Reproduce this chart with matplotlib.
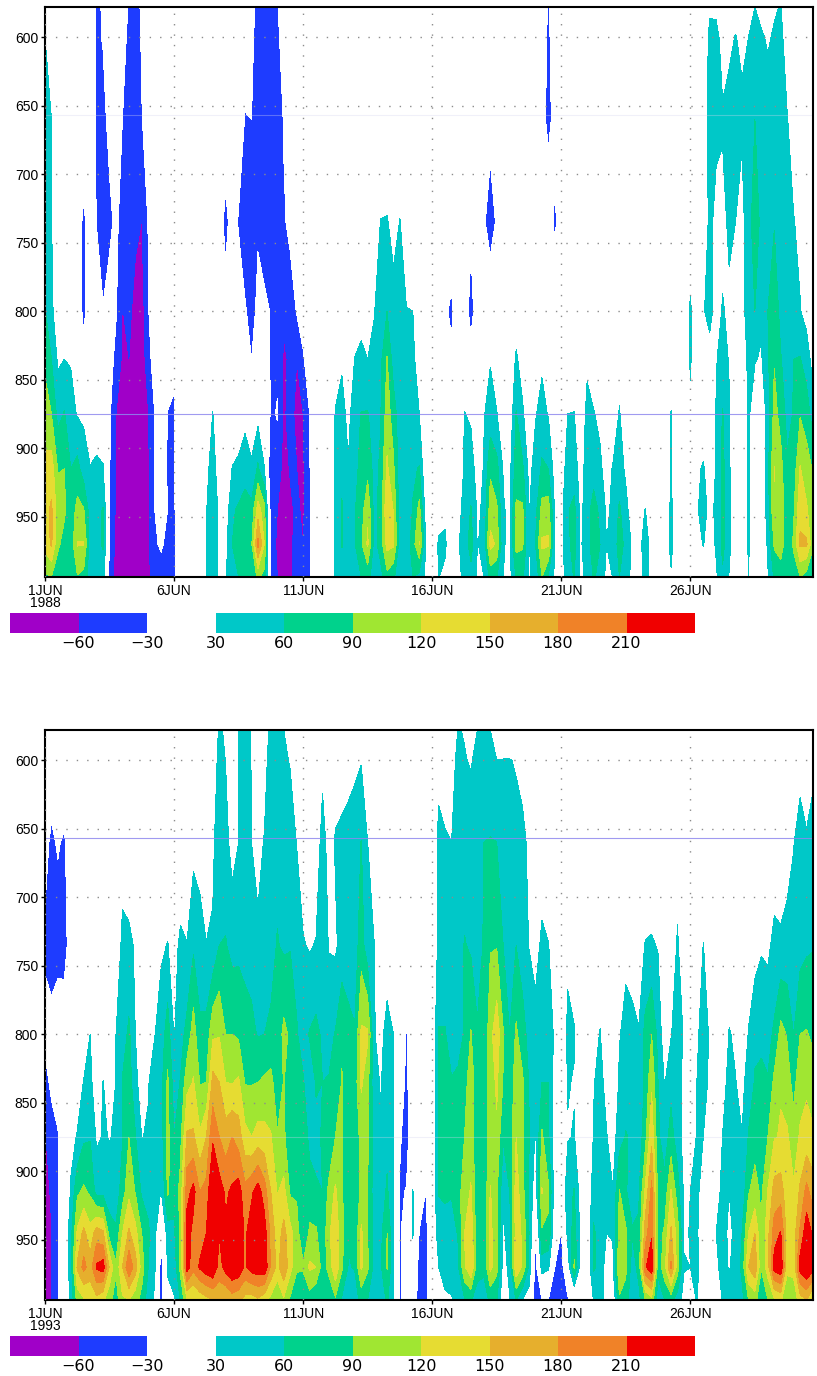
import numpy as np
import matplotlib
matplotlib.use('Agg')
import matplotlib.pyplot as plt

W, H = 817, 1376

levels_p = [994, 970, 945, 915, 875, 835, 800, 735, 660, 600, 578]
contour_levels = [-1000, -60, -30, 30, 60, 90, 120, 150, 180, 210, 1000]
colors = ['#A000C8', '#1E3CFF', '#FFFFFF', '#00C8C8', '#00D28C', '#A0E632',
          '#E6DC32', '#E6AF2D', '#F08228', '#F00000']
cbar_labels = ['\u221260', '\u221230', '30', '60', '90', '120', '150', '180', '210']
day_ticks = [0, 5, 10, 15, 20, 25]
day_labels = ['1JUN', '6JUN', '11JUN', '16JUN', '21JUN', '26JUN']
p_ticks = [600, 650, 700, 750, 800, 850, 900, 950]

# one row per 6 hours, values from 994 hPa upward, trailing zeros left out
w_1988 = [
    [85,130,140,130,100,85,62,45,38,30,20],
    [90,155,155,135,90,60,35,31,30],
    [75,95,105,88,50,25,15],
    [65,80,95,90,62,30,15],
    [62,70,70,60,40,28,5],
    [88,122,100,70,28,10,-10,-10],
    [80,122,92,45,25,-20,-38,-38],
    [40,45,45,31,15,0,-10,-10],
    [45,55,50,35,15,0,0,-32,-34,-36,-40],
    [50,62,62,32,10,0,-28,-50,-40,-28,-25],
    [-45,-30,-28,-28,-25,-15,-15,-38,-20,-5],
    [-70,-70,-65,-62,-60,-40,-27,-22,-12],
    [-75,-75,-72,-72,-72,-65,-62,-45,-30,-15,-5],
    [-80,-80,-80,-80,-75,-60,-50,-55,-45,-40,-35],
    [-85,-85,-85,-85,-80,-72,-75,-50,-55,-55,-55],
    [-80,-80,-80,-80,-78,-75,-75,-61,-32,-25,-20],
    [-65,-65,-65,-65,-62,-45,-33,-28,-10],
    [-50,-35,-30,-30,-30,-10],
    [-45,-25,-10,-5],
    [-50,-40,-30,-35,-31,-15],
    [-35,-35,-35,-35,-33,-25],
    [-15,-5],
    [], [], [],
    [29,29,29,25],
    [40,45,45,38,31,10],
    [25,25,25,20,0,0,0,-15],
    [25,20,10,0,0,0,-18,-40,-6],
    [60,60,55,31,10,0,0,-15],
    [60,70,65,35,15,0,-10,-33,-10],
    [65,75,72,48,20,0,-26,-55,-32,-10],
    [70,85,68,35,10,-30,-45,-58,-30,-25,-20],
    [95,190,135,65,20,0,-20,-35,-45,-40,-40],
    [80,120,100,31,5,0,-22,-50,-55,-55,-50],
    [-45,-45,-50,-61,-35,-35,-32,-50,-55,-55,-55],
    [-60,-65,-60,-45,-28,-35,-45,-58,-55,-35,-32],
    [-70,-75,-75,-70,-65,-65,-55,-35,-27,-20,-15],
    [-65,-70,-65,-58,-50,-55,-50,-20,-10],
    [-50,-45,-55,-60,-68,-60,-28,-5],
    [-35,-61,-65,-65,-60,-35,-10],
    [-32,-32,-32,-32,-30,-5],
    [], [], [],
    [35,38,38,38,32,15],
    [45,62,62,55,42,25,5],
    [40,42,42,32,20,5],
    [48,58,58,55,50,31,10],
    [60,85,75,65,61,35,22],
    [70,125,115,80,62,30,20],
    [45,50,50,50,45,40,28,5],
    [50,72,70,65,58,52,50,31],
    [80,130,148,125,105,92,60,32],
    [65,125,118,95,75,45,40,20],
    [40,42,42,42,42,40,40,31],
    [38,40,40,40,40,36,31,10],
    [60,75,62,55,42,36,30,5],
    [50,122,100,62,30,15],
    [25,28,15],
    [],
    [31,35,15],
    [22,36,22,0,0,-5,-25],
    [0,0,0,0,0,-25,-36,-10],
    [20,26,20],
    [40,45,40,35,31,10,-15],
    [50,72,62,45,25,-20,-40,-25],
    [28,28,25,15,0,0,-15],
    [30,40,35,32,28,10,0,-25],
    [70,130,105,85,42,28,0,-48,-17],
    [62,115,95,70,32,5,0,-25],
    [30,32,32,28],
    [20,25,25,20,5],
    [62,100,95,75,62,35,10],
    [65,95,95,65,35,15],
    [28,28,28,22,5],
    [35,60,50,40,28],
    [90,125,100,65,40,25,10,0,-20,-15,-10],
    [55,125,105,60,28,5,0,-10,-38,-35,-34],
    [25,28,25,15,5,0,-10,-36,-20,-15,-10],
    [15,20,20,15,5,0,0,-10],
    [45,55,58,42,30,5],
    [62,68,68,45,31,8],
    [25,25,20,15],
    [35,50,50,45,42,22],
    [62,72,70,50,32,10],
    [55,60,55,37,22],
    [20,30,25,15],
    [31,35,35,33,5],
    [60,75,65,42,33,15],
    [45,50,38,25,5],
    [20,25,15],
    [15,20,15],
    [38,42,31,5],
    [20,20,10],
    [], [],
    [25,42,36,34,31,15],
    [], [],
    [0,0,0,0,24,34,36],
    [5,15,27,25,5],
    [10,32,40,33,10,5,28,15],
    [0,10,22,15,5,20,38,35,45,40,24],
    [25,35,35,32,32,28,20,24,35,38,24],
    [55,68,68,68,62,42,32,22,33,20],
    [28,40,36,35,33,28,25,35,38,25],
    [0,0,0,0,-32,-5,10,30,45,31,20],
    [0,0,0,0,0,0,15,18,35,25,20],
    [31,33,33,34,35,40,50,52,45,30,25],
    [10,5,0,0,10,32,60,70,60,42,30],
    [0,0,0,0,0,27,35,55,45,32,25],
    [27,35,45,50,45,55,60,40,38,28,20],
    [65,95,118,121,100,88,80,58,42,32,28],
    [70,108,110,100,80,62,50,35,40,35,31],
    [62,68,68,65,50,45,40,33,31,20,15],
    [75,95,85,72,62,60,42,31,20],
    [90,155,142,122,88,62,31,25,5],
    [75,155,125,100,80,42,22,10],
    [60,95,95,88,42,20,5],
]

w_1993 = [
    [-75,-75,-75,-75,-62,-45,-20,-35,-22],
    [-62,-62,-62,-55,-50,-20,-15,-50,-35,-15],
    [-35,-35,-35,-35,-32,-18,-5,-45,-27],
    [0,0,0,0,0,0,-6,-45,-35],
    [38,45,48,33,22,10,0,-10,-5],
    [100,155,125,85,32,15,5],
    [115,190,158,95,55,31,12],
    [130,165,130,85,58,42,30,10],
    [140,215,165,48,25],
    [125,225,155,50,32,31],
    [100,145,75,42,29,10],
    [75,95,65,42,33,31,30,5],
    [115,150,120,75,58,62,45,38,15],
    [120,205,155,112,90,72,66,36,10],
    [100,165,130,88,62,42,30,27],
    [80,105,90,55,29,8],
    [45,60,65,50,33,28,5],
    [25,35,40,48,45,45,29,5],
    [-46,-46,-20,28,45,50,42,26],
    [25,32,45,95,100,95,76,31,5],
    [28,40,55,70,60,45,28,20],
    [62,100,95,100,82,62,48,36,5],
    [120,225,225,200,155,110,70,31],
    [115,190,200,220,155,122,105,55,20],
    [130,215,195,180,125,88,65,45,15],
    [140,230,210,190,150,90,70,31],
    [150,240,240,250,205,160,115,33,25],
    [160,195,212,225,180,150,118,60,45,45,35],
    [145,225,215,205,165,120,90,62,40,29,25],
    [165,240,220,215,180,118,90,50,18],
    [155,235,235,225,165,125,85,52,30,30,30],
    [140,205,205,190,130,88,70,52,38,40,40],
    [135,225,225,205,120,88,66,50,30,29,28],
    [145,230,235,225,132,90,58,36,20],
    [130,235,225,195,130,95,60,50,32,18],
    [110,175,170,150,122,100,65,50,42,45,45],
    [90,140,135,118,92,70,70,62,50,45,45],
    [115,175,160,130,95,92,98,55,45,35,30],
    [85,130,130,85,70,65,85,58,45,28],
    [62,95,105,85,75,62,62,52,29,10],
    [60,95,60,75,85,62,50,32,15],
    [75,125,95,75,50,45,62,27],
    [60,120,95,62,55,62,68,32,5],
    [60,75,65,60,62,60,55,45,45,20],
    [65,100,115,100,62,62,50,28,15],
    [85,145,140,125,90,65,62,25,33,15],
    [55,95,100,95,91,92,85,42,35,20],
    [40,58,62,60,65,70,70,42,38,22],
    [45,62,62,62,70,72,62,45,42,25],
    [70,125,125,100,100,125,125,75,61,28],
    [60,95,90,90,95,100,125,40,30],
    [45,50,50,45,45,40,32,31],
    [40,55,50,40,33,28,20],
    [65,92,90,65,50,42,42,10],
    [28,32,32,32,31,31,30],
    [-38,-38,-36,-35,-25,-15,-10],
    [0,0,0,-28,-48,-36,-32],
    [0,15,33,31,5,-10,-10],
    [-50,-45,-32,-5],
    [-40,-40,-40,-30,-5],
    [],
    [5,30,45,62,65,65,62,38,40,18],
    [25,42,55,62,65,65,62,40,33,15],
    [28,42,50,62,65,62,45,42,30,12],
    [40,55,62,75,85,65,50,42,50,42,32],
    [58,115,120,110,90,72,62,62,42,32,28],
    [62,148,142,122,110,115,92,55,50,27,20],
    [48,70,68,62,62,60,62,50,50,40,30],
    [48,65,62,62,70,66,62,62,60,50,35],
    [65,128,130,122,105,105,110,88,62,32,30],
    [62,100,95,95,115,125,140,88,60,30,20],
    [5,15,25,38,62,88,92,60,50,31,5],
    [28,40,45,60,65,65,60,40,40,31,5],
    [62,145,135,135,120,110,95,60,38,28],
    [28,115,115,100,95,95,72,45,36,22],
    [12,55,60,55,62,58,50,29,25],
    [-50,-45,-25,10,25,35,45,15],
    [-30,45,85,122,95,60,45,38,5],
    [-31,36,85,95,65,60,45,31],
    [-45,-30,0,10,10,15,25,15],
    [-50,-45,-32],
    [-35,10,40,50,28,32,38,22],
    [-15,95,72,62,32,28,33,5],
    [0,15,20,15,5],
    [],
    [31,65,65,45,32,28,15],
    [50,50,45,45,45,40,32],
    [12,15,30,35,32,20,5],
    [0,27,31,31,15],
    [85,118,100,92,48,35,28],
    [80,95,95,62,62,45,40,22],
    [28,45,62,50,55,40,33,25],
    [50,70,65,55,40,40,31,20],
    [90,205,165,125,80,65,70,31,10],
    [110,235,205,190,142,115,90,33,5],
    [40,70,75,80,65,60,50,28],
    [60,110,95,70,45,28,10],
    [70,185,155,122,72,50,28],
    [45,105,105,75,45,40,48,35,10],
    [20,32,27,25,20,22,27],
    [15,30,31,30,12],
    [32,40,35,35,32,30,25],
    [0,5,5,20,30,40,42,31],
    [0,0,0,0,10,25,27,5],
    [20,25,30,15],
    [31,38,45,40,31,15],
    [45,28,22,30,40,42,32,5],
    [35,38,38,38,35,31,25],
    [50,68,60,38,31,20],
    [90,150,120,88,62,45,32,5],
    [100,175,150,100,80,62,55,15],
    [65,92,92,85,65,62,58,26],
    [90,135,140,122,90,62,50,24],
    [115,225,195,162,118,98,65,38,10],
    [125,235,212,165,122,118,100,35,10],
    [90,130,135,130,125,100,88,38,20],
    [100,130,135,125,100,82,60,40,29,5],
    [135,225,185,155,125,105,90,48,42,20],
    [150,245,230,190,130,115,92,55,33,15],
    [110,225,205,165,125,102,85,58,38,25],
]


def to_grid(rows):
    grid = np.zeros((len(levels_p), len(rows)))
    for i, row in enumerate(rows):
        grid[:len(row), i] = row
    return grid


def panel(y_top, rows, year, line_strong, line_faint):
    ax = fig.add_axes([45 / W, 1 - (y_top + 570) / H, 768 / W, 570 / H])
    days = np.arange(len(rows)) / 4
    ax.contourf(days, levels_p, to_grid(rows), levels=contour_levels, colors=colors, zorder=1)
    ax.set_xlim(0, days[-1])
    ax.set_ylim(994, 578)
    ax.set_yticks(p_ticks)
    ax.set_xticks(day_ticks)
    ax.set_xticklabels(day_labels)
    ax.tick_params(length=3, width=1, labelsize=10, pad=2, labelfontfamily='Liberation Sans')
    ax.grid(True, color='#8c8c8c', linewidth=1, linestyle=(0, (1, 6.5)), zorder=3)
    ax.set_axisbelow(False)
    for s in ax.spines.values():
        s.set_linewidth(1.5)
    ax.axhline(line_strong, color='#8f88ee', linewidth=0.8, alpha=0.85, zorder=2)
    ax.axhline(line_faint, color='#d4d4ee', linewidth=0.8, alpha=0.35, zorder=2)
    ax.text(0, -0.0456, str(year), transform=ax.get_xaxis_transform(), ha='center', va='center',
            fontsize=10, family='Liberation Sans')

    cb = fig.add_axes([10 / W, 1 - (y_top + 626) / H, 685 / W, 20 / H])
    cb.bar(np.arange(len(colors)) + 0.5, np.ones(len(colors)), width=1, color=colors)
    cb.set_xlim(0, len(colors))
    cb.set_ylim(0, 1)
    cb.set_yticks([])
    cb.set_xticks(np.arange(1, len(colors)))
    cb.set_xticklabels(cbar_labels, fontsize=11.5, family='DejaVu Sans')
    cb.tick_params(length=0, pad=2)
    for s in cb.spines.values():
        s.set_visible(False)


fig = plt.figure(figsize=(W / 100, H / 100), dpi=100)
panel(7, w_1988, 1988, 875, 657)
panel(730, w_1993, 1993, 657, 875)
fig.savefig('out.png', dpi=100)
